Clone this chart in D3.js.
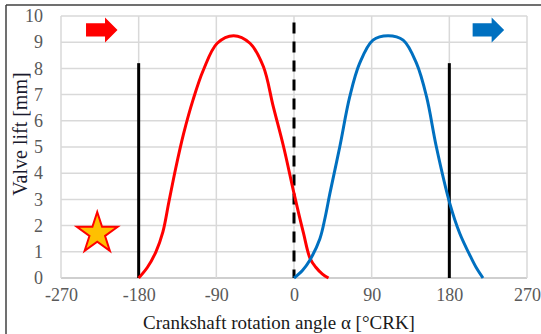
<!DOCTYPE html>
<html><head><meta charset="utf-8">
<script src="https://cdn.jsdelivr.net/npm/d3@7"></script>
<style>
html,body{margin:0;padding:0;background:#fff;}
svg{display:block;}
</style></head>
<body>
<svg id="chart" width="541" height="334"></svg>
<script>
const xTicks = [-270, -180, -90, 0, 90, 180, 270];
const yTicks = [0,1,2,3,4,5,6,7,8,9,10];
const xTitle = "Crankshaft rotation angle α [°CRK]";
const yTitle = "Valve lift [mm]";

const redLift = [
  [-180,0],[-170,0.4],[-160,1.0],[-152,1.75],[-145,2.9],[-137,4.2],[-128,5.5],[-117,6.8],[-105,7.94],
  [-89,8.96],[-70,9.25],[-51,8.96],[-35.5,8.07],[-24,6.54],[-12,5.0],[0,3.23],[11,1.71],
  [18.6,0.75],[25,0.42],[33,0.15],[40,0]
];
const blueLift = [
  [0,0],[10,0.3],[18.5,0.69],[30,1.5],[36,2.3],[41.6,3.23],[53,5.0],[64.6,6.92],[76,8.19],[91.5,9.08],
  [109,9.25],[126.5,9.08],[142,8.19],[153.6,6.92],[165,5.0],[180.5,2.85],[192,1.71],
  [205.6,0.75],[212,0.35],[219,0]
];
const solidMarkers = [[-180, 8.2], [180, 8.2]];   // [angle, top lift]
const dashedMarkers = [[0, 9.75]];
const arrows = [
  {from:-241, to:-204.5, lift:9.47, color:"#ff0000"},
  {from:207, to:243.5, lift:9.47, color:"#0070c0"}
];
const starPoint = [-228, 1.7];

const FONT = "Liberation Serif";
const svg = d3.select("#chart");
const m = {left:61, right:527, top:16, bottom:278};
const x = d3.scaleLinear().domain([-270,270]).range([m.left, m.right]);
const y = d3.scaleLinear().domain([0,10]).range([m.bottom, m.top]);

// frame
svg.append("line").attr("x1",6).attr("x2",541).attr("y1",5).attr("y2",5).attr("stroke","#404040").attr("stroke-width",1.5);
svg.append("line").attr("x1",6).attr("x2",6).attr("y1",5).attr("y2",334).attr("stroke","#404040").attr("stroke-width",1.5);

// grid
const g = svg.append("g");
g.selectAll(".hg").data(yTicks).join("line")
  .attr("x1", m.left).attr("x2", m.right).attr("y1", d=>y(d)).attr("y2", d=>y(d))
  .attr("stroke", d=> d===0 ? "#bfbfbf" : "#d9d9d9").attr("stroke-width",1.5);
g.selectAll(".vg").data(xTicks).join("line")
  .attr("x1", d=>x(d)).attr("x2", d=>x(d)).attr("y1", m.top).attr("y2", m.bottom)
  .attr("stroke","#d9d9d9").attr("stroke-width",1.5);

// axes labels
const xAxis = d3.axisBottom(x).tickValues(xTicks).tickSize(0).tickPadding(10).tickFormat(d=>String(d));
const ax = svg.append("g").attr("transform",`translate(0,${m.bottom})`).call(xAxis)
  .attr("font-family", FONT).attr("font-size", 18);
ax.select(".domain").remove();
ax.selectAll("text").attr("fill","#595959");
const yAxis = d3.axisLeft(y).tickValues(yTicks).tickSize(0).tickPadding(18).tickFormat(d=>String(d));
const ay = svg.append("g").attr("transform",`translate(${m.left},0)`).call(yAxis)
  .attr("font-family", FONT).attr("font-size", 18);
ay.select(".domain").remove();
ay.selectAll("text").attr("fill","#595959");

svg.append("text").attr("x", 279).attr("y", 329).attr("text-anchor","middle")
  .attr("fill","#1a1a1a").attr("font-family", FONT).attr("font-size", 19).text(xTitle);
svg.append("text").attr("transform","translate(27,134) rotate(-90)").attr("text-anchor","middle")
  .attr("fill","#1a1a2e").attr("font-family", FONT).attr("font-size", 20).text(yTitle);

// vertical markers
svg.selectAll(".sm").data(solidMarkers).join("line")
  .attr("x1", d=>x(d[0])).attr("x2", d=>x(d[0])).attr("y1", y(0)).attr("y2", d=>y(d[1]))
  .attr("stroke","#000").attr("stroke-width",3);
svg.selectAll(".dm").data(dashedMarkers).join("line")
  .attr("x1", d=>x(d[0])).attr("x2", d=>x(d[0])).attr("y1", d=>y(d[1])).attr("y2", y(0))
  .attr("stroke","#000").attr("stroke-width",3).attr("stroke-dasharray","11,8");

// curves
const line = d3.line().x(d=>x(d[0])).y(d=>y(d[1])).curve(d3.curveCatmullRom.alpha(0.5));
svg.append("path").datum(redLift).attr("d", line).attr("fill","none").attr("stroke","#ff0000").attr("stroke-width",3);
svg.append("path").datum(blueLift).attr("d", line).attr("fill","none").attr("stroke","#0070c0").attr("stroke-width",3);

// arrows
arrows.forEach(a=>{
  const x0 = x(a.from), x1 = x(a.to), cy = y(a.lift);
  const hx = x1 - 12.5, sh = 6.7, hh = 12.5;
  const pts = [[x0,cy-sh],[hx,cy-sh],[hx,cy-hh],[x1,cy],[hx,cy+hh],[hx,cy+sh],[x0,cy+sh]];
  svg.append("polygon").attr("points", pts.map(p=>p.join(",")).join(" ")).attr("fill", a.color);
});

// star
const R = 21.5, r = R*0.382;
const starPts = d3.range(10).map(i=>{
  const ang = -Math.PI/2 + i*Math.PI/5, rr = i%2===0 ? R : r;
  return [x(starPoint[0]) + rr*Math.cos(ang), y(starPoint[1]) + rr*Math.sin(ang)];
});
svg.append("polygon").attr("points", starPts.map(p=>p.join(",")).join(" "))
  .attr("fill","#ffc000").attr("stroke","#ff0000").attr("stroke-width",2).attr("stroke-linejoin","miter");
</script>
</body></html>
